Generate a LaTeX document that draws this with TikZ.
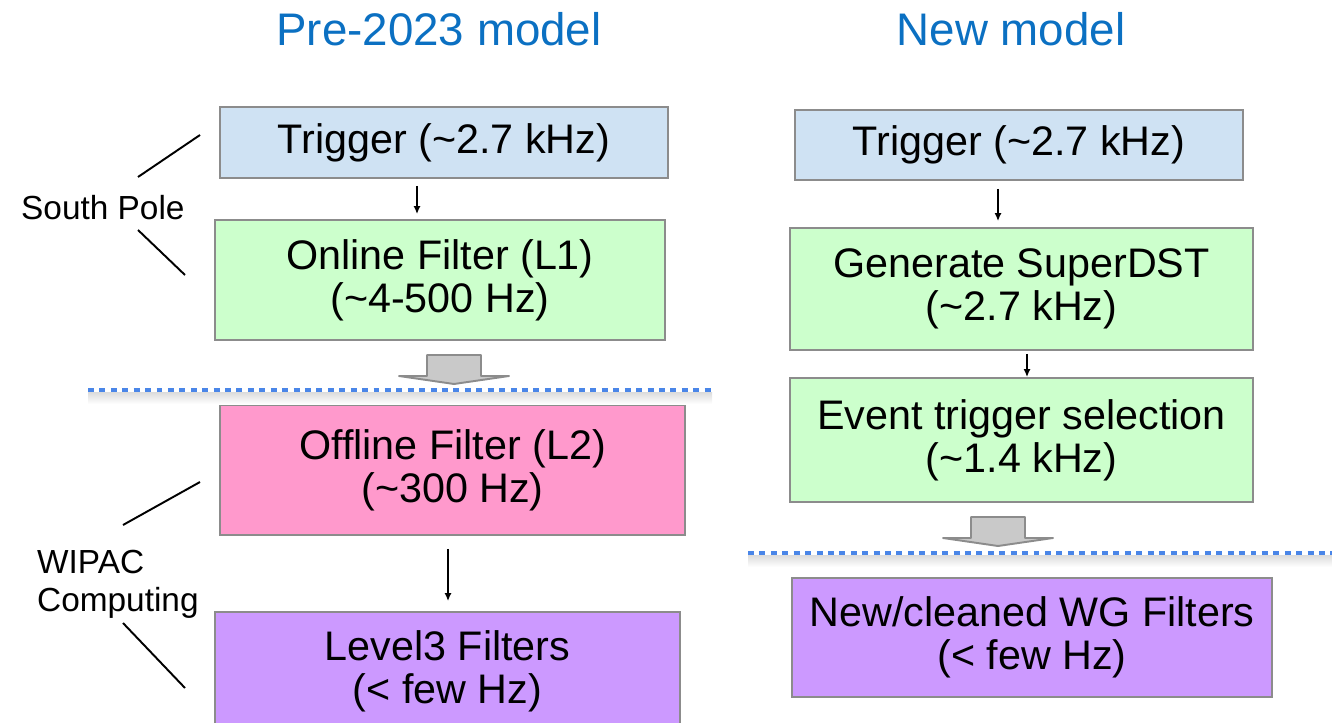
\documentclass[tikz,border=0pt]{standalone}
\usepackage{fontspec}
\setmainfont{Liberation Sans}
\usetikzlibrary{arrows.meta}

\definecolor{titleblue}{HTML}{0B70C2}
\definecolor{trigfill}{HTML}{CFE2F3}
\definecolor{greenfill}{HTML}{CCFFCC}
\definecolor{pinkfill}{HTML}{FF99CC}
\definecolor{purplefill}{HTML}{CC99FF}
\definecolor{boxline}{HTML}{8C8C8C}
\definecolor{dotblue}{HTML}{4A86E8}

\tikzset{
  stagebox/.style={draw=boxline, line width=1.1pt, align=center, inner sep=0pt,
    font=\fontsize{23.5}{24.5}\selectfont},
  title/.style={text=titleblue, font=\fontsize{26}{30}\selectfont},
  sidelabel/.style={align=left, font=\fontsize{19}{21.5}\selectfont},
  flow/.style={->, line width=0.85pt},
  dotline/.style={dotblue, line width=2.8pt, dash pattern=on 3.4pt off 3.1pt},
  downarrow/.pic={
    \draw[boxline, fill=black!21, line width=1.1pt, line join=round]
      (-27,0) -- (27,0) -- (27,21) -- (55,21) -- (0,29) -- (-55,21) -- (-27,21) -- cycle;
  }
}

\begin{document}
\begin{tikzpicture}[x=0.02cm, y=-0.02cm, >={Latex[length=4.5pt,width=4pt]}]
\clip (0,0) rectangle (1332,723);

% titres
\node[title] (titleL) at (439,29) {Pre-2023 model};
\node[title] (titleR) at (1011,29) {New model};

% ancien modele
\node[stagebox, fill=trigfill, minimum width=8.96cm, minimum height=1.42cm] (trigL) at (444,142.5) {Trigger (\textasciitilde2.7 kHz)};
\node[stagebox, fill=greenfill, minimum width=9.0cm, minimum height=2.4cm] (onlL) at (440,280) {Online Filter (L1)\\(\textasciitilde4-500 Hz)};
\node[stagebox, fill=pinkfill, minimum width=9.3cm, minimum height=2.6cm] (offL) at (452.5,470) {Offline Filter (L2)\\(\textasciitilde300 Hz)};
\node[stagebox, fill=purplefill, minimum width=9.3cm, minimum height=2.36cm] (lvlL) at (447.5,671) {Level3 Filters\\(< few Hz)};

\draw[flow, shorten <=0.14cm, shorten >=0.1cm] (417,0 |- trigL.south) -- (417,0 |- onlL.north);
\draw[flow, shorten <=0.26cm, shorten >=0.2cm] (448,0 |- offL.south) -- (448,0 |- lvlL.north);

\shade[top color=black!14, bottom color=white] (88,392) rectangle (712,404);
\draw[dotline] (88,390) -- (712,390);
\pic at (454,355) {downarrow};

% nouveau modele
\node[stagebox, fill=trigfill, minimum width=8.96cm, minimum height=1.4cm] (trigR) at (1019,145) {Trigger (\textasciitilde2.7 kHz)};
\node[stagebox, fill=greenfill, minimum width=9.26cm, minimum height=2.44cm] (supR) at (1021.5,289) {Generate SuperDST\\(\textasciitilde2.7 kHz)};
\node[stagebox, fill=greenfill, minimum width=9.26cm, minimum height=2.48cm] (evtR) at (1021.5,440) {Event trigger selection\\(\textasciitilde1.4 kHz)};
\node[stagebox, fill=purplefill, minimum width=9.6cm, minimum height=2.38cm] (wgR) at (1032,637.5) {New/cleaned WG Filters\\(< few Hz)};

\draw[flow, shorten <=0.16cm, shorten >=0.12cm] (998,0 |- trigR.south) -- (998,0 |- supR.north);
\draw[flow, shorten <=0.06cm] (1027,0 |- supR.south) -- (1027,0 |- evtR.north);

\shade[top color=black!14, bottom color=white] (748,555) rectangle (1332,567);
\draw[dotline] (748,553) -- (1332,553);
\pic at (998,517) {downarrow};

% lieux
\node[sidelabel, anchor=west] (pole) at (15,208) {South Pole};
\draw[line width=1.1pt] (138,177) -- (200,135);
\draw[line width=1.1pt] (138,230) -- (185,275);

\node[sidelabel, anchor=west] (wipac) at (31,584) {WIPAC\\Computing};
\draw[line width=1.1pt] (123,525) -- (200,482);
\draw[line width=1.1pt] (123,623) -- (185,688);
\end{tikzpicture}
\end{document}
